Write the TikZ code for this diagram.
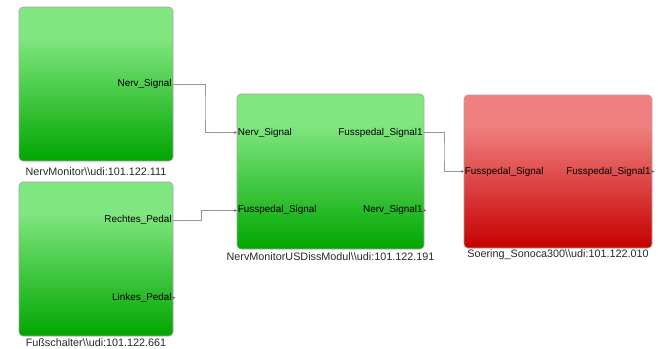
\documentclass[tikz,border=0pt]{standalone}
\usepackage{fontspec}
\setmainfont{Liberation Sans}
\usetikzlibrary{calc,arrows.meta}

\definecolor{glight}{RGB}{128,230,128}
\definecolor{gdark}{RGB}{0,166,0}
\definecolor{rlight}{RGB}{240,128,128}
\definecolor{rdark}{RGB}{198,0,0}
\definecolor{edgegray}{RGB}{165,165,165}
\definecolor{wiregray}{RGB}{150,150,150}
\definecolor{labelgray}{RGB}{40,40,40}

% light band at the top, then a fade to the dark tone at the bottom
\pgfdeclareverticalshading{greenfade}{100bp}{color(0bp)=(gdark); color(25bp)=(gdark); color(65bp)=(glight); color(100bp)=(glight)}
\pgfdeclareverticalshading{redfade}{100bp}{color(0bp)=(rdark); color(25bp)=(rdark); color(65bp)=(rlight); color(100bp)=(rlight)}

\tikzset{
  block/.style={draw=edgegray, line width=0.6pt, rounded corners=4pt, inner sep=0pt},
  okblock/.style={block, shading=greenfade},
  errblock/.style={block, shading=redfade},
  blocklabel/.style={font=\fontsize{10.8}{12}\selectfont, text=labelgray, inner sep=0pt},
  inlabel/.style={font=\fontsize{9.9}{11}\selectfont, anchor=west, inner sep=0pt, xshift=1pt},
  outlabel/.style={font=\fontsize{9.9}{11}\selectfont, anchor=east, inner sep=0pt, xshift=-1.5pt},
  wire/.style={draw=wiregray, line width=0.7pt, -{Stealth[length=2.5pt,width=2.5pt,color=black!70]}},
  portmark/.style={fill=black!55}
}

\begin{document}
\begin{tikzpicture}[x=1pt, y=-1pt]
  \useasboundingbox (0,0) rectangle (658,348);

  % blocks
  \node[okblock, minimum width=154pt, minimum height=154pt] (nm) at (96,84) {};
  \node[okblock, minimum width=154pt, minimum height=154pt] (fs) at (96,259) {};
  \node[okblock, minimum width=187pt, minimum height=155pt] (mod) at (330.5,171.5) {};
  \node[errblock, minimum width=188pt, minimum height=153pt] (son) at (558,171.5) {};

  % block titles
  \node[blocklabel] (nmt) at (96,172) {NervMonitor\textbackslash\textbackslash udi:101.122.111};
  \node[blocklabel] (fst) at (96,342.3) {Fußschalter\textbackslash\textbackslash udi:101.122.661};
  \node[blocklabel] (modt) at (330.5,257) {NervMonitorUSDissModul\textbackslash\textbackslash udi:101.122.191};
  \node[blocklabel] (sont) at (558,255) {Soering\_Sonoca300\textbackslash\textbackslash udi:101.122.010};

  % port positions
  \coordinate (nm-o1) at (nm.east);
  \coordinate (fs-o1) at ($(fs.north east)!0.25!(fs.south east)$);
  \coordinate (fs-o2) at ($(fs.north east)!0.75!(fs.south east)$);
  \coordinate (mod-i1) at ($(mod.north west)!0.25!(mod.south west)$);
  \coordinate (mod-i2) at ($(mod.north west)!0.75!(mod.south west)$);
  \coordinate (mod-o1) at ($(mod.north east)!0.25!(mod.south east)$);
  \coordinate (mod-o2) at ($(mod.north east)!0.75!(mod.south east)$);
  \coordinate (son-i1) at (son.west);
  \coordinate (son-o1) at (son.east);

  % port labels
  \node[outlabel] (nm-l1) at (nm-o1) {Nerv\_Signal};
  \node[outlabel] (fs-l1) at (fs-o1) {Rechtes\_Pedal};
  \node[outlabel] (fs-l2) at (fs-o2) {Linkes\_Pedal};
  \node[inlabel] (mod-l1) at (mod-i1) {Nerv\_Signal};
  \node[inlabel] (mod-l2) at (mod-i2) {Fusspedal\_Signal};
  \node[outlabel] (mod-l3) at (mod-o1) {Fusspedal\_Signal1};
  \node[outlabel] (mod-l4) at (mod-o2) {Nerv\_Signal1};
  \node[inlabel] (son-l1) at (son-i1) {Fusspedal\_Signal};
  \node[outlabel] (son-l2) at (son-o1) {Fusspedal\_Signal1};

  % open output ports
  \foreach \p in {fs-o2, mod-o2, son-o1}
    \fill[portmark] (\p) ++(-1,-1.6) -- ++(3.2,1.6) -- ++(-3.2,1.6) -- cycle;

  % signal lines
  \draw[wire] (nm-o1) -| ($(nm-o1)!0.5!(mod-i1)$) |- (mod-i1);
  \draw[wire] (fs-o1) -| ($(fs-o1)!0.45!(mod-i2)$) |- (mod-i2);
  \draw[wire] (mod-o1) -| ($(mod-o1)!0.5!(son-i1)$) |- (son-i1);
\end{tikzpicture}
\end{document}
